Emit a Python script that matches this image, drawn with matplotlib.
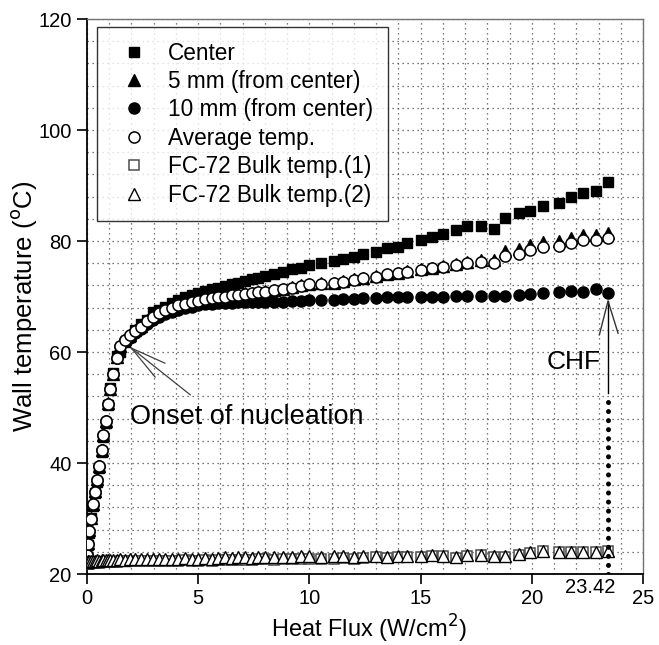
import numpy as np
import matplotlib
matplotlib.use("Agg")
import matplotlib.pyplot as plt
from matplotlib.ticker import MultipleLocator

plt.rcParams['font.family'] = ['Liberation Sans', 'DejaVu Sans']

# heat flux steps (W/cm2)
q = [0.0, 0.02, 0.05, 0.1, 0.17, 0.27, 0.36, 0.46, 0.55, 0.66, 0.74, 0.85, 0.96, 1.05,
     1.18, 1.34, 1.5, 1.7, 1.93, 2.16, 2.42, 2.68, 2.95, 3.22, 3.5, 3.8, 4.1, 4.4, 4.7,
     5.0, 5.3, 5.6, 5.9, 6.2, 6.5, 6.8, 7.1, 7.4, 7.7, 8.0, 8.4, 8.8, 9.2, 9.6, 10.0,
     10.5, 11.1, 11.5, 12.0, 12.4, 13.0, 13.5, 14.0, 14.4, 15.0, 15.5, 16.0, 16.6, 17.1,
     17.7, 18.3, 18.8, 19.4, 19.9, 20.5, 21.2, 21.75, 22.3, 22.9, 23.42]

t_center = [22.5, 23.1, 25.2, 27.4, 30.1, 32.3, 34.6, 36.6, 39.1, 42.0, 44.7, 47.2, 50.4, 53.5,
            56.2, 59.2, 60.0, 61.8, 62.8, 64.0, 65.0, 65.8, 67.2, 67.6, 68.2, 68.8, 69.4, 69.9, 70.3,
            70.7, 71.0, 71.3, 71.6, 71.9, 72.2, 72.5, 72.8, 73.1, 73.4, 73.7, 74.0, 74.4, 74.9, 75.2, 75.6,
            76.0, 76.4, 76.8, 77.2, 77.6, 78.0, 78.7, 78.9, 79.6, 80.2, 80.7, 81.3, 82.0, 82.7,
            82.7, 82.1, 84.1, 85.0, 85.4, 86.3, 86.9, 87.9, 88.6, 89.1, 90.6]

t_5mm = [22.4, 23.6, 25.6, 27.9, 30.1, 32.7, 34.9, 37.1, 39.5, 42.4, 45.1, 47.6, 50.8, 53.4,
         56.1, 59.1, 61.1, 62.3, 63.1, 63.9, 64.7, 65.7, 66.5, 67.1, 67.7, 68.1, 68.5, 68.8, 69.1,
         69.3, 69.6, 69.8, 70.0, 70.1, 70.3, 70.4, 70.6, 70.7, 70.9, 71.0, 71.2, 71.4, 71.7, 72.0, 72.3,
         72.4, 72.5, 72.8, 73.1, 73.4, 73.7, 74.1, 74.3, 74.6, 74.9, 75.2, 75.5, 75.8, 76.2,
         76.6, 76.5, 78.2, 78.6, 79.2, 79.9, 80.0, 80.6, 81.0, 81.0, 81.4]

t_10mm = [22.3, 23.4, 25.4, 27.7, 30.0, 32.5, 34.8, 37.0, 39.4, 42.3, 45.0, 47.5, 50.7, 53.3,
          56.0, 59.0, 61.0, 62.1, 62.6, 63.4, 64.2, 65.0, 65.7, 66.3, 66.8, 67.2, 67.6, 67.9, 68.2,
          68.4, 68.6, 68.7, 68.8, 68.9, 68.9, 69.0, 69.0, 69.0, 69.1, 69.1, 69.1, 69.1, 69.2, 69.2, 69.3,
          69.3, 69.4, 69.5, 69.5, 69.7, 69.7, 69.9, 70.0, 70.0, 70.0, 70.0, 70.0, 70.1, 70.1,
          70.1, 70.1, 70.1, 70.3, 70.5, 70.6, 70.9, 71.0, 70.9, 71.3, 70.7]

t_avg = [22.3, 23.5, 25.5, 27.8, 30.0, 32.6, 34.8, 37.0, 39.4, 42.3, 45.0, 47.5, 50.7, 53.3,
         56.0, 59.0, 61.0, 62.2, 63.0, 63.8, 64.6, 65.6, 66.4, 67.0, 67.6, 68.0, 68.4, 68.7, 69.0,
         69.2, 69.5, 69.7, 69.9, 70.0, 70.2, 70.3, 70.5, 70.6, 70.8, 70.9, 71.1, 71.3, 71.6, 71.9, 72.2,
         72.3, 72.4, 72.7, 73.0, 73.3, 73.6, 74.0, 74.2, 74.5, 74.8, 75.1, 75.4, 75.7, 76.0,
         76.3, 76.0, 77.3, 77.7, 78.3, 79.0, 79.1, 79.6, 80.1, 80.2, 80.5]

t_bulk1 = [21.8, 21.8, 21.9, 21.9, 22.0, 22.0, 22.0, 22.1, 22.0, 22.1, 22.1, 22.1, 22.2, 22.2,
           22.2, 22.2, 22.3, 22.3, 22.3, 22.3, 22.4, 22.3, 22.4, 22.4, 22.4, 22.3, 22.4, 22.5, 22.4,
           22.4, 22.5, 22.4, 22.5, 22.6, 22.5, 22.6, 22.6, 22.5, 22.7, 22.7, 22.6, 22.7, 22.7, 22.8, 22.8,
           22.7, 22.8, 22.9, 22.8, 22.9, 23.0, 22.9, 23.0, 23.1, 23.1, 23.2, 23.2, 22.9, 23.3,
           23.4, 23.0, 23.1, 23.5, 23.8, 24.2, 24.0, 24.0, 24.0, 23.9, 24.1]

t_bulk2 = [22.2, 22.2, 22.3, 22.3, 22.4, 22.4, 22.4, 22.5, 22.4, 22.5, 22.5, 22.5, 22.6, 22.6,
           22.6, 22.6, 22.7, 22.6, 22.7, 22.7, 22.8, 22.7, 22.8, 22.8, 22.8, 22.7, 22.8, 22.9, 22.8,
           22.8, 22.9, 22.8, 22.9, 23.0, 22.9, 23.0, 23.0, 22.9, 23.1, 23.1, 23.0, 23.1, 23.1, 23.2, 23.2,
           23.1, 23.2, 23.2, 23.1, 23.2, 23.3, 23.1, 23.2, 23.3, 23.3, 23.4, 23.3, 23.1, 23.4,
           23.5, 23.2, 23.3, 23.6, 23.9, 24.2, 24.0, 24.0, 24.0, 23.9, 24.1]

labels = ['Center', '5 mm (from center)', '10 mm (from center)', 'Average temp.',
          'FC-72 Bulk temp.(1)', 'FC-72 Bulk temp.(2)']

q_chf = 23.42

fig = plt.figure(figsize=(6.59, 6.45), dpi=100)
ax = fig.add_axes([0.132, 0.110, 0.844, 0.8605])

ms = 7.5
ax.plot(q, t_center, 's', color='black', ms=ms, label=labels[0], zorder=3)
ax.plot(q, t_5mm, '^', color='black', ms=ms + 0.5, label=labels[1], zorder=3)
ax.plot(q, t_10mm, 'o', color='black', ms=ms + 0.5, label=labels[2], zorder=3)
ax.plot(q, t_avg, 'o', mfc='white', mec='black', mew=1.1, ms=ms + 0.5, label=labels[3], zorder=4)
ax.plot(q, t_bulk1, 's', mfc='white', mec='0.3', mew=1.1, ms=ms, label=labels[4], zorder=4)
ax.plot(q, t_bulk2, '^', mfc='white', mec='black', mew=1.0, ms=ms + 0.5, label=labels[5], zorder=4)

ax.set_xlim(0, 25)
ax.set_ylim(20, 120)
ax.xaxis.set_major_locator(MultipleLocator(5))
ax.xaxis.set_minor_locator(MultipleLocator(1))
ax.yaxis.set_major_locator(MultipleLocator(20))
ax.yaxis.set_minor_locator(MultipleLocator(4))
ax.tick_params(which='major', direction='out', length=7, width=1.2, labelsize=14.5, pad=4)
ax.tick_params(which='minor', length=0)
ax.grid(which='both', linestyle=(0, (1, 3)), color='0.3', linewidth=0.9, zorder=0)
ax.set_axisbelow(True)

for s in ['left', 'bottom']:
    ax.spines[s].set_linewidth(1.3)
for s in ['top', 'right']:
    ax.spines[s].set_color('0.45')
    ax.spines[s].set_linewidth(1.0)

ax.set_xlabel('Heat Flux (W/cm$^2$)', fontsize=17)
ax.xaxis.set_label_coords(0.507, -0.07)
ax.set_ylabel('Wall temperature ($^{\\rm o}$C)', fontsize=18.5)
ax.yaxis.set_label_coords(-0.087, 0.483)

# CHF marker
ax.text(22.6, 17.5, '23.42', ha='center', va='center', fontsize=14.5, clip_on=False)
ax.plot([q_chf, q_chf], [20, 52.7], linestyle=(0, (0.01, 1.8)), color='black', lw=3.6,
        dash_capstyle='round', zorder=5)
ax.plot([q_chf, q_chf], [52.7, 69.2], color='black', lw=1.0, zorder=5)
ax.plot([23.03, q_chf, 23.87], [63.1, 69.2, 63.4], color='0.2', lw=1.0, zorder=5)
ax.text(23.1, 58.2, 'CHF', ha='right', va='center', fontsize=19)

# onset of nucleation pointer
for ex, ey in [(3.5, 58.0), (3.06, 55.5), (4.64, 52.3)]:
    ax.plot([2.0, ex], [60.7, ey], color='0.25', lw=0.9, zorder=5)
ax.text(1.94, 48.3, 'Onset of nucleation', ha='left', va='center', fontsize=19.5)

leg = ax.legend(loc='upper left', bbox_to_anchor=(0.018, 0.986), borderaxespad=0,
                fontsize=16.3, frameon=True, fancybox=False, edgecolor='black',
                handlelength=2.0, handletextpad=0.5, labelspacing=0.24, borderpad=0.65,
                numpoints=1)
leg.get_frame().set_linewidth(1.0)
leg.set_zorder(10)

fig.savefig('out.png', dpi=100)
